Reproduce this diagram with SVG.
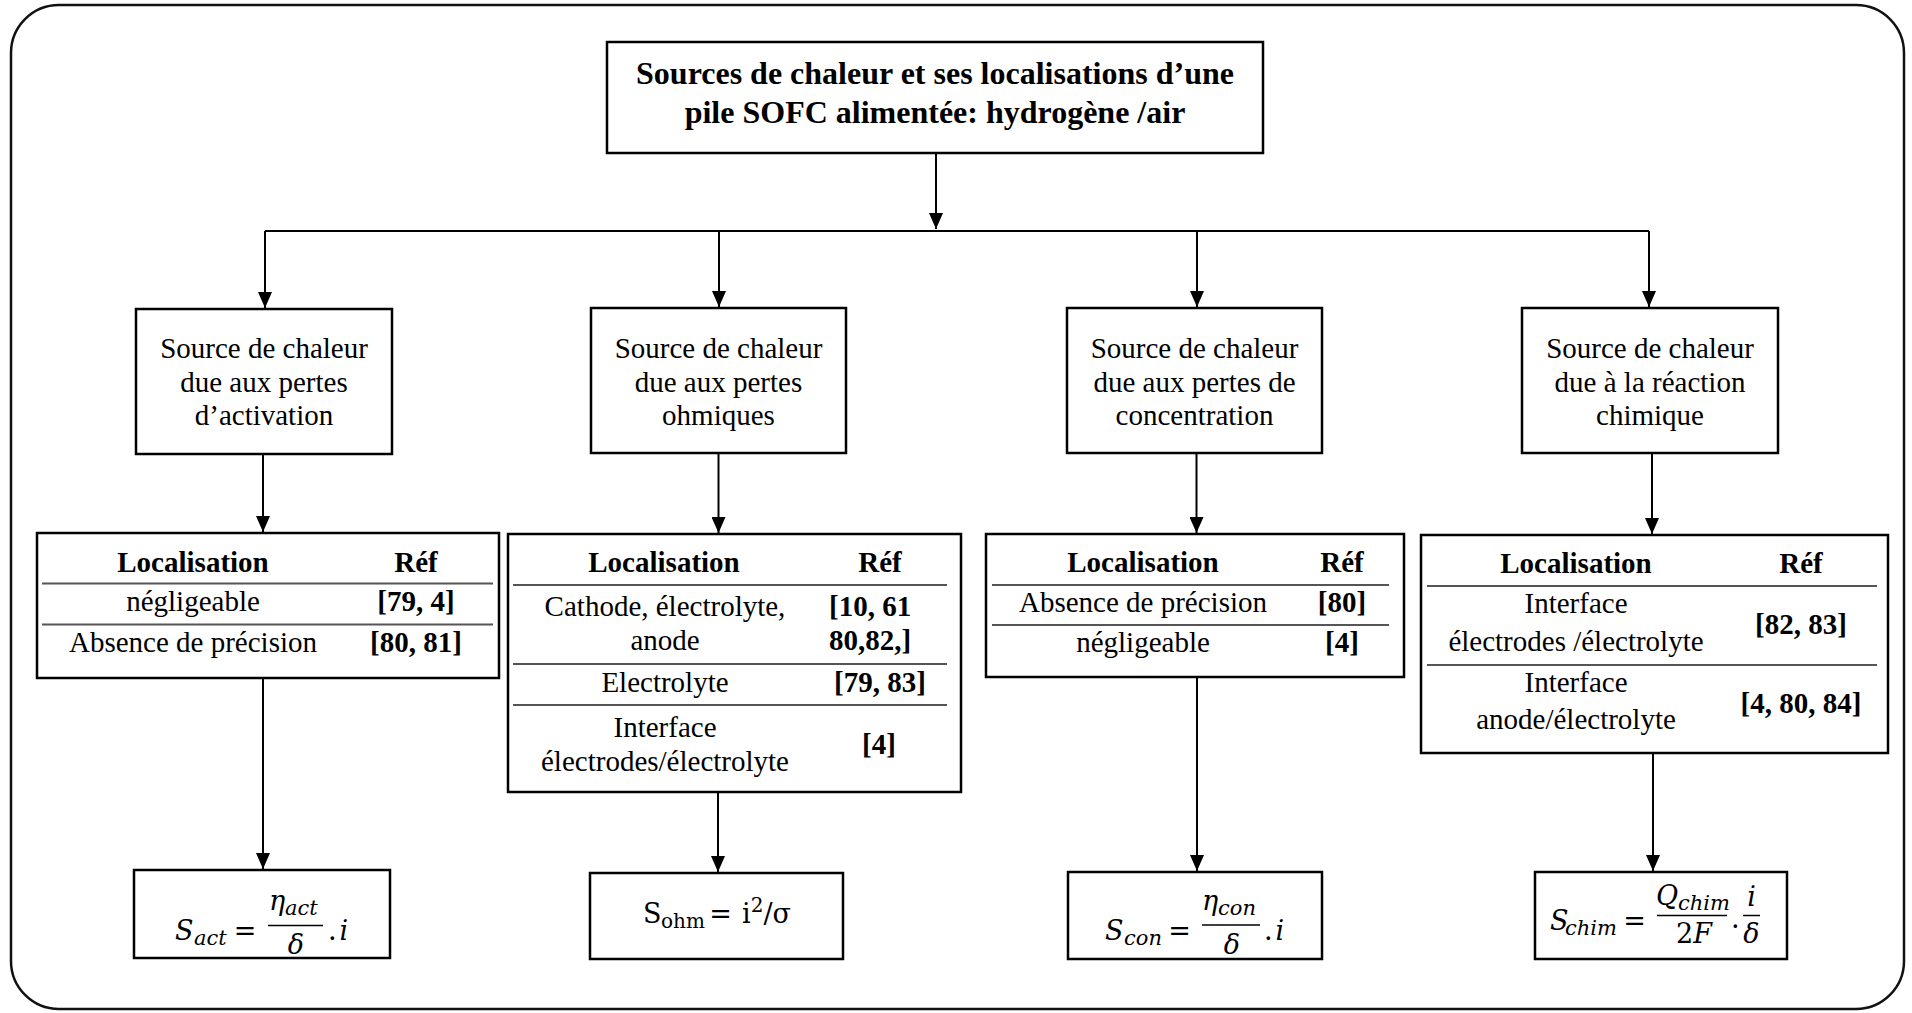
<svg xmlns="http://www.w3.org/2000/svg" width="1912" height="1013" viewBox="0 0 1912 1013">
<defs>
<marker id="ah" viewBox="0 0 16 14" refX="16" refY="7" markerWidth="16" markerHeight="14" markerUnits="userSpaceOnUse" orient="auto"><path d="M0,0 L16,7 L0,14 z" fill="#000"/></marker>
</defs>
<style>
.box{fill:#fff;stroke:#000;stroke-width:2.5}
.t{font-family:"Liberation Serif","Times New Roman",serif;font-size:29px;fill:#000;text-anchor:middle}
.st{text-anchor:start}
.b{font-weight:bold}
.title{font-size:32px;font-weight:bold}
.sep{stroke:#555;stroke-width:2}
.con{stroke:#000;stroke-width:2;fill:none}
.con line{marker-end:url(#ah)}
.m{font-family:"DejaVu Serif",serif;font-style:italic;font-size:27px;fill:#000}
.ms{font-family:"DejaVu Serif",serif;font-style:italic;font-size:21px;fill:#000}
.mu{font-family:"DejaVu Serif",serif;font-size:27px;fill:#000}
.mus{font-family:"DejaVu Serif",serif;font-size:20px;fill:#000}
.mid{text-anchor:middle}
.bar{stroke:#000;stroke-width:1.5}
</style>
<rect x="0" y="0" width="1912" height="1013" fill="#fff"/>
<rect x="11" y="5" width="1893" height="1004" rx="48" ry="48" fill="#fff" stroke="#111" stroke-width="2.5"/>

<g id="connectors" class="con">
<path d="M265,231 H1649"/>
<line x1="936" y1="153" x2="936" y2="229"/>
<line x1="265" y1="231" x2="265" y2="308"/>
<line x1="719" y1="231" x2="719" y2="307"/>
<line x1="1197" y1="231" x2="1197" y2="307"/>
<line x1="1649" y1="231" x2="1649" y2="307"/>
<line x1="263" y1="454" x2="263" y2="532"/>
<line x1="718.5" y1="453" x2="718.5" y2="533"/>
<line x1="1196.5" y1="453" x2="1196.5" y2="533"/>
<line x1="1652" y1="453" x2="1652" y2="534"/>
<line x1="263" y1="678" x2="263" y2="869"/>
<line x1="718" y1="792" x2="718" y2="872"/>
<line x1="1197" y1="677" x2="1197" y2="871"/>
<line x1="1653" y1="753" x2="1653" y2="871"/>
</g>

<g id="title">
<rect class="box" x="607" y="42" width="656" height="111" stroke-width="3"/>
<text class="t title" x="935" y="84">Sources de chaleur et ses localisations d’une</text>
<text class="t title" x="935" y="123">pile SOFC alimentée: hydrogène /air</text>
</g>

<g id="src-act">
<rect class="box" x="136" y="309" width="256" height="145"/>
<text class="t" x="264" y="358">Source de chaleur</text>
<text class="t" x="264" y="392">due aux pertes</text>
<text class="t" x="264" y="425">d’activation</text>
</g>
<g id="src-ohm">
<rect class="box" x="591" y="308" width="255" height="145"/>
<text class="t" x="718.5" y="358">Source de chaleur</text>
<text class="t" x="718.5" y="392">due aux pertes</text>
<text class="t" x="718.5" y="425">ohmiques</text>
</g>
<g id="src-con">
<rect class="box" x="1067" y="308" width="255" height="145"/>
<text class="t" x="1194.5" y="358">Source de chaleur</text>
<text class="t" x="1194.5" y="392">due aux pertes de</text>
<text class="t" x="1194.5" y="425">concentration</text>
</g>
<g id="src-chim">
<rect class="box" x="1522" y="308" width="256" height="145"/>
<text class="t" x="1650" y="358">Source de chaleur</text>
<text class="t" x="1650" y="392">due à la réaction</text>
<text class="t" x="1650" y="425">chimique</text>
</g>

<g id="tab-act">
<rect class="box" x="37" y="533" width="462" height="145"/>
<text class="t b" x="193" y="572">Localisation</text>
<text class="t b" x="416" y="572">Réf</text>
<line class="sep" x1="42" y1="583.5" x2="493" y2="583.5"/>
<text class="t" x="193" y="611">négligeable</text>
<text class="t b" x="416" y="611">[79, 4]</text>
<line class="sep" x1="42" y1="624.5" x2="493" y2="624.5"/>
<text class="t" x="193" y="652">Absence de précision</text>
<text class="t b" x="416" y="652">[80, 81]</text>
</g>

<g id="tab-ohm">
<rect class="box" x="508" y="534" width="453" height="258"/>
<text class="t b" x="664" y="572">Localisation</text>
<text class="t b" x="880" y="572">Réf</text>
<line class="sep" x1="513" y1="585" x2="947" y2="585"/>
<text class="t" x="665" y="616">Cathode, électrolyte,</text>
<text class="t" x="665" y="650">anode</text>
<text class="t b st" x="829" y="616">[10, 61</text>
<text class="t b st" x="829" y="650">80,82,]</text>
<line class="sep" x1="513" y1="664" x2="947" y2="664"/>
<text class="t" x="665" y="692">Electrolyte</text>
<text class="t b" x="880" y="692">[79, 83]</text>
<line class="sep" x1="513" y1="705" x2="947" y2="705"/>
<text class="t" x="665" y="737">Interface</text>
<text class="t" x="665" y="771">électrodes/électrolyte</text>
<text class="t b" x="879" y="754">[4]</text>
</g>

<g id="tab-con">
<rect class="box" x="986" y="534" width="418" height="143"/>
<text class="t b" x="1143" y="572">Localisation</text>
<text class="t b" x="1342" y="572">Réf</text>
<line class="sep" x1="992" y1="585" x2="1389" y2="585"/>
<text class="t" x="1143" y="612">Absence de précision</text>
<text class="t b" x="1342" y="612">[80]</text>
<line class="sep" x1="992" y1="625" x2="1389" y2="625"/>
<text class="t" x="1143" y="652">négligeable</text>
<text class="t b" x="1342" y="652">[4]</text>
</g>

<g id="tab-chim">
<rect class="box" x="1421" y="535" width="467" height="218"/>
<text class="t b" x="1576" y="573">Localisation</text>
<text class="t b" x="1801" y="573">Réf</text>
<line class="sep" x1="1427" y1="586" x2="1877" y2="586"/>
<text class="t" x="1576" y="613">Interface</text>
<text class="t" x="1576" y="651">électrodes /électrolyte</text>
<text class="t b" x="1801" y="634">[82, 83]</text>
<line class="sep" x1="1427" y1="665" x2="1877" y2="665"/>
<text class="t" x="1576" y="692">Interface</text>
<text class="t" x="1576" y="729">anode/électrolyte</text>
<text class="t b" x="1801" y="713">[4, 80, 84]</text>
</g>

<g id="f-act">
<rect class="box" x="134" y="870" width="256" height="88"/>
<text class="m" x="175" y="940">S</text>
<text class="ms" x="194" y="945">act</text>
<text class="mu mid" x="245" y="940">=</text>
<text class="m" x="269" y="910">η</text>
<text class="ms" x="285" y="915">act</text>
<line class="bar" x1="268" y1="925.5" x2="323" y2="925.5"/>
<text class="m mid" x="296" y="954">δ</text>
<text class="mu" x="328" y="940">.<tspan font-style="italic" dx="3">i</tspan></text>
</g>

<g id="f-ohm">
<rect class="box" x="590" y="873" width="253" height="86"/>
<text class="mu" x="643" y="923">S</text>
<text class="mus" x="661" y="928">ohm</text>
<text class="mu mid" x="720.5" y="923">=</text>
<text class="mu" x="742" y="923">i<tspan class="mus" dy="-11">2</tspan><tspan dy="11">/σ</tspan></text>
</g>

<g id="f-con">
<rect class="box" x="1068" y="872" width="254" height="87"/>
<text class="m" x="1105" y="940">S</text>
<text class="ms" x="1124" y="945">con</text>
<text class="mu mid" x="1179.5" y="940">=</text>
<text class="m" x="1202" y="910">η</text>
<text class="ms" x="1218" y="915">con</text>
<line class="bar" x1="1202" y1="925" x2="1260" y2="925"/>
<text class="m mid" x="1232" y="954">δ</text>
<text class="mu" x="1264" y="940">.<tspan font-style="italic" dx="3">i</tspan></text>
</g>

<g id="f-chim">
<rect class="box" x="1535" y="872" width="252" height="87"/>
<text class="m" x="1550" y="930">S</text>
<text class="ms" x="1565" y="935">chim</text>
<text class="mu mid" x="1634.5" y="930">=</text>
<text class="m" x="1656" y="905">Q</text>
<text class="ms" x="1678" y="910">chim</text>
<line class="bar" x1="1657" y1="915.5" x2="1727" y2="915.5"/>
<text class="mu mid" x="1694" y="943">2<tspan font-style="italic">F</tspan></text>
<text class="mu" x="1731" y="928">.</text>
<line class="bar" x1="1743" y1="915.5" x2="1760" y2="915.5"/>
<text class="m mid" x="1751.5" y="906">i</text>
<text class="m mid" x="1751.5" y="943">δ</text>
</g>
</svg>
